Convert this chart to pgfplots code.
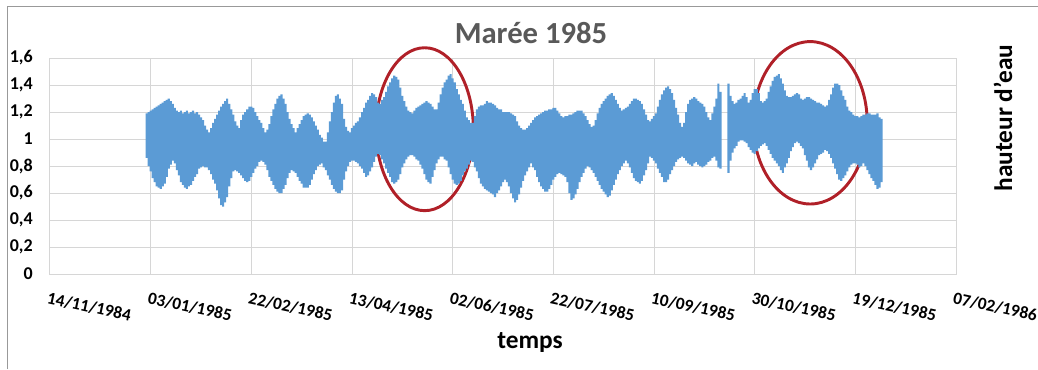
\documentclass[border=0pt]{standalone}
\usepackage{pgfplots}
\usepackage{pgfplotstable}
\pgfplotsset{compat=1.18}
\usepackage{fontspec}
\setmainfont{Carlito}
\definecolor{tide}{HTML}{5B9BD5}
\definecolor{gridgray}{HTML}{D6D6D6}
\definecolor{ellred}{RGB}{176,32,40}
\definecolor{titlegray}{HTML}{595959}

\pgfplotstableread[row sep=\\]{
d lo hi\\
48 0.86 1.19\\ 49 0.80 1.20\\ 50 0.76 1.21\\ 51 0.71 1.22\\ 52 0.68 1.23\\ 53 0.65 1.24\\ 54 0.64 1.25\\ 55 0.63 1.26\\
56 0.65 1.27\\ 57 0.67 1.28\\ 58 0.72 1.29\\ 59 0.78 1.30\\ 60 0.81 1.28\\ 61 0.84 1.26\\ 62 0.82 1.23\\ 63 0.77 1.21\\
64 0.73 1.20\\ 65 0.68 1.21\\ 66 0.66 1.19\\ 67 0.64 1.20\\ 68 0.63 1.21\\ 69 0.65 1.19\\ 70 0.66 1.20\\ 71 0.69 1.21\\
72 0.72 1.19\\ 73 0.74 1.20\\ 74 0.78 1.18\\ 75 0.79 1.16\\ 76 0.80 1.14\\ 77 0.79 1.10\\ 78 0.79 1.07\\ 79 0.77 1.05\\
80 0.74 1.08\\ 81 0.70 1.12\\ 82 0.67 1.15\\ 83 0.62 1.18\\ 84 0.56 1.21\\ 85 0.51 1.24\\ 86 0.50 1.26\\ 87 0.53 1.28\\
88 0.57 1.30\\ 89 0.65 1.26\\ 90 0.71 1.22\\ 91 0.76 1.18\\ 92 0.77 1.13\\ 93 0.76 1.10\\ 94 0.75 1.08\\ 95 0.73 1.14\\
96 0.71 1.18\\ 97 0.69 1.20\\ 98 0.68 1.22\\ 99 0.69 1.24\\ 100 0.72 1.24\\ 101 0.75 1.23\\ 102 0.78 1.20\\ 103 0.80 1.17\\
104 0.83 1.14\\ 105 0.84 1.12\\ 106 0.83 1.08\\ 107 0.81 1.05\\ 108 0.77 1.07\\ 109 0.72 1.11\\ 110 0.69 1.17\\ 111 0.66 1.22\\
112 0.63 1.26\\ 113 0.61 1.30\\ 114 0.60 1.32\\ 115 0.60 1.33\\ 116 0.63 1.30\\ 117 0.66 1.26\\ 118 0.71 1.20\\ 119 0.75 1.15\\
120 0.77 1.11\\ 121 0.76 1.08\\ 122 0.75 1.05\\ 123 0.72 1.08\\ 124 0.69 1.11\\ 125 0.67 1.14\\ 126 0.64 1.17\\ 127 0.64 1.18\\
128 0.64 1.19\\ 129 0.66 1.18\\ 130 0.70 1.16\\ 131 0.74 1.13\\ 132 0.77 1.10\\ 133 0.80 1.07\\ 134 0.81 1.03\\ 135 0.82 1.01\\
136 0.79 0.98\\ 137 0.77 0.98\\ 138 0.73 1.05\\ 139 0.70 1.13\\ 140 0.66 1.20\\ 141 0.63 1.27\\ 142 0.61 1.32\\ 143 0.60 1.33\\
144 0.60 1.30\\ 145 0.62 1.26\\ 146 0.70 1.15\\ 147 0.76 1.09\\ 148 0.80 1.06\\ 149 0.83 1.05\\ 150 0.84 1.08\\ 151 0.84 1.10\\
152 0.83 1.12\\ 153 0.82 1.13\\ 154 0.80 1.16\\ 155 0.78 1.20\\ 156 0.75 1.23\\ 157 0.72 1.27\\ 158 0.73 1.29\\ 159 0.76 1.32\\
160 0.79 1.34\\ 161 0.83 1.33\\ 162 0.87 1.31\\ 163 0.89 1.27\\ 164 0.88 1.26\\ 165 0.85 1.29\\ 166 0.82 1.31\\ 167 0.78 1.35\\
168 0.75 1.39\\ 169 0.72 1.42\\ 170 0.68 1.45\\ 171 0.67 1.47\\ 172 0.68 1.46\\ 173 0.70 1.44\\ 174 0.74 1.38\\ 175 0.79 1.32\\
176 0.82 1.28\\ 177 0.85 1.24\\ 178 0.87 1.21\\ 179 0.88 1.20\\ 180 0.88 1.19\\ 181 0.87 1.21\\ 182 0.85 1.23\\ 183 0.84 1.24\\
184 0.81 1.25\\ 185 0.78 1.26\\ 186 0.74 1.27\\ 187 0.70 1.28\\ 188 0.68 1.27\\ 189 0.67 1.26\\ 190 0.72 1.24\\ 191 0.77 1.22\\
192 0.82 1.22\\ 193 0.85 1.27\\ 194 0.87 1.33\\ 195 0.87 1.38\\ 196 0.85 1.42\\ 197 0.84 1.44\\ 198 0.79 1.47\\ 199 0.74 1.48\\
200 0.70 1.45\\ 201 0.67 1.42\\ 202 0.66 1.37\\ 203 0.67 1.33\\ 204 0.69 1.29\\ 205 0.73 1.26\\ 206 0.76 1.21\\ 207 0.78 1.16\\
208 0.81 1.14\\ 209 0.84 1.12\\ 210 0.83 1.12\\ 211 0.79 1.17\\ 212 0.76 1.22\\ 213 0.71 1.24\\ 214 0.67 1.25\\ 215 0.65 1.25\\
216 0.63 1.26\\ 217 0.62 1.28\\ 218 0.61 1.27\\ 219 0.60 1.27\\ 220 0.59 1.26\\ 221 0.57 1.25\\ 222 0.60 1.23\\ 223 0.62 1.22\\
224 0.65 1.22\\ 225 0.68 1.20\\ 226 0.70 1.20\\ 227 0.68 1.20\\ 228 0.65 1.20\\ 229 0.60 1.19\\ 230 0.56 1.18\\ 231 0.53 1.17\\
232 0.55 1.13\\ 233 0.59 1.10\\ 234 0.64 1.08\\ 235 0.69 1.07\\ 236 0.73 1.07\\ 237 0.76 1.08\\ 238 0.79 1.10\\ 239 0.82 1.12\\
240 0.79 1.14\\ 241 0.77 1.16\\ 242 0.72 1.17\\ 243 0.68 1.18\\ 244 0.65 1.19\\ 245 0.63 1.20\\ 246 0.61 1.21\\ 247 0.61 1.21\\
248 0.63 1.22\\ 249 0.66 1.22\\ 250 0.70 1.23\\ 251 0.72 1.23\\ 252 0.74 1.21\\ 253 0.75 1.19\\ 254 0.74 1.17\\ 255 0.73 1.16\\
256 0.72 1.17\\ 257 0.68 1.17\\ 258 0.60 1.18\\ 259 0.55 1.18\\ 260 0.56 1.19\\ 261 0.59 1.20\\ 262 0.63 1.21\\ 263 0.68 1.21\\
264 0.72 1.21\\ 265 0.75 1.19\\ 266 0.78 1.17\\ 267 0.80 1.14\\ 268 0.79 1.11\\ 269 0.77 1.09\\ 270 0.75 1.10\\ 271 0.72 1.14\\
272 0.69 1.19\\ 273 0.66 1.23\\ 274 0.63 1.26\\ 275 0.61 1.28\\ 276 0.59 1.30\\ 277 0.57 1.32\\ 278 0.58 1.33\\ 279 0.62 1.34\\
280 0.66 1.32\\ 281 0.70 1.29\\ 282 0.74 1.26\\ 283 0.77 1.23\\ 284 0.80 1.21\\ 285 0.82 1.22\\ 286 0.84 1.23\\ 287 0.82 1.24\\
288 0.79 1.26\\ 289 0.75 1.28\\ 290 0.71 1.30\\ 291 0.69 1.30\\ 292 0.68 1.29\\ 293 0.67 1.28\\ 294 0.69 1.26\\ 295 0.73 1.22\\
296 0.77 1.18\\ 297 0.82 1.14\\ 298 0.87 1.13\\ 299 0.86 1.15\\ 300 0.84 1.17\\ 301 0.82 1.19\\ 302 0.78 1.24\\ 303 0.75 1.29\\
304 0.72 1.33\\ 305 0.68 1.36\\ 306 0.68 1.38\\ 307 0.70 1.39\\ 308 0.74 1.37\\ 309 0.77 1.34\\ 310 0.80 1.29\\ 311 0.83 1.23\\
312 0.85 1.18\\ 313 0.86 1.12\\ 314 0.87 1.09\\ 315 0.86 1.12\\ 316 0.84 1.20\\ 317 0.82 1.26\\ 318 0.81 1.29\\ 319 0.80 1.30\\
320 0.82 1.31\\ 321 0.83 1.30\\ 322 0.81 1.28\\ 323 0.80 1.27\\ 324 0.79 1.26\\ 325 0.80 1.24\\ 326 0.81 1.20\\ 327 0.83 1.16\\
328 0.84 1.14\\ 329 0.86 1.19\\ 330 0.87 1.24\\ 331 0.84 1.30\\ 332 0.79 1.41\\ 333 0.78 1.35\\
337 0.75 1.41\\ 338 0.84 1.32\\ 339 0.90 1.28\\ 340 0.93 1.26\\ 341 0.95 1.27\\ 342 0.98 1.29\\ 343 0.99 1.30\\ 344 0.99 1.32\\
345 0.98 1.34\\ 346 0.97 1.31\\ 347 0.94 1.27\\ 348 0.92 1.29\\ 349 0.90 1.34\\ 350 0.89 1.37\\ 351 0.91 1.37\\ 352 0.93 1.34\\
353 0.95 1.28\\ 354 0.96 1.27\\ 355 0.97 1.28\\ 356 0.95 1.30\\ 357 0.92 1.35\\ 358 0.89 1.39\\ 359 0.86 1.43\\ 360 0.84 1.46\\
361 0.82 1.47\\ 362 0.80 1.48\\ 363 0.77 1.45\\ 364 0.75 1.41\\ 365 0.79 1.36\\ 366 0.82 1.32\\ 367 0.86 1.31\\ 368 0.91 1.31\\
369 0.94 1.32\\ 370 0.97 1.33\\ 371 0.98 1.34\\ 372 0.97 1.33\\ 373 0.95 1.30\\ 374 0.93 1.29\\ 375 0.88 1.30\\ 376 0.84 1.31\\
377 0.79 1.31\\ 378 0.77 1.30\\ 379 0.79 1.29\\ 380 0.82 1.28\\ 381 0.85 1.27\\ 382 0.88 1.27\\ 383 0.89 1.26\\ 384 0.90 1.25\\
385 0.92 1.24\\ 386 0.91 1.25\\ 387 0.89 1.29\\ 388 0.86 1.33\\ 389 0.82 1.38\\ 390 0.78 1.41\\ 391 0.74 1.41\\ 392 0.70 1.40\\
393 0.69 1.36\\ 394 0.71 1.32\\ 395 0.73 1.29\\ 396 0.76 1.24\\ 397 0.79 1.21\\ 398 0.81 1.20\\ 399 0.82 1.18\\ 400 0.82 1.17\\
401 0.81 1.17\\ 402 0.79 1.16\\ 403 0.80 1.17\\ 404 0.82 1.18\\ 405 0.80 1.18\\ 406 0.77 1.19\\ 407 0.74 1.19\\ 408 0.71 1.18\\
409 0.69 1.18\\ 410 0.66 1.18\\ 411 0.63 1.19\\ 412 0.64 1.16\\ 413 0.68 1.15\\
}\tidetable

\begin{document}
\begin{tikzpicture}
\path[use as bounding box] (-37.5pt,-71.25pt) rectangle (741pt,205.5pt);
\draw[color=gray!80, line width=0.75pt] (-31.5pt,-71.25pt) -- (-31.5pt,201pt) -- (741pt,201pt);
\begin{axis}[
  at={(0pt,0pt)}, anchor=south west,
  scale only axis, width=679.5pt, height=162pt,
  xmin=0, xmax=450, ymin=0, ymax=1.6,
  clip=false,
  ybar stacked, bar width=1.6pt,
  axis line style={draw=gridgray, line width=0.75pt},
  grid=major,
  major grid style={draw=gridgray, line width=0.75pt},
  major tick length=0pt,
  xtick={0,50,100,150,200,250,300,350,400,450},
  xticklabels={14/11/1984,03/01/1985,22/02/1985,13/04/1985,02/06/1985,22/07/1985,10/09/1985,30/10/1985,19/12/1985,07/02/1986},
  ytick={0,0.2,0.4,0.6,0.8,1.0,1.2,1.4,1.6},
  yticklabels={0,{0,2},{0,4},{0,6},{0,8},1,{1,2},{1,4},{1,6}},
  xticklabel style={font=\fontsize{13}{15}\selectfont\bfseries, inner sep=0pt, xshift=-1pt, yshift=-13pt, rotate=-12, anchor=north west},
  yticklabel style={font=\fontsize{13.5}{15}\selectfont\bfseries, inner sep=0pt, xshift=-12.75pt, anchor=east},
]
\addplot[draw=none, fill=none] table[x=d, y=lo] {\tidetable};
\addplot[draw=none, fill=tide] table[x=d, y expr=\thisrow{hi}-\thisrow{lo}] {\tidetable};
\draw[ellred, line width=2.2pt] (axis cs:186.1,1.0726) ellipse [x radius=36.5pt, y radius=61.1pt];
\draw[ellred, line width=2.2pt] (axis cs:377.6,1.12) ellipse [x radius=42.75pt, y radius=60.9pt];
\end{axis}
\node[anchor=base, font=\fontsize{23}{26}\selectfont\bfseries, text=titlegray, inner sep=0pt] at (360.75pt,173pt) {Marée 1985};
\node[anchor=base, font=\fontsize{19}{22}\selectfont\bfseries, inner sep=0pt] at (360pt,-55.5pt) {temps};
\node[anchor=base, rotate=90, font=\fontsize{19}{22}\selectfont\bfseries, inner sep=0pt] at (721.5pt,117pt) {hauteur d'eau};
\end{tikzpicture}
\end{document}
